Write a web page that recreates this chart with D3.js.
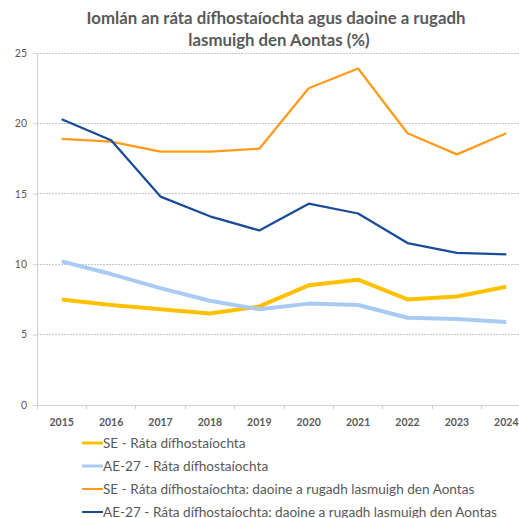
<!DOCTYPE html>
<html>
<head>
<meta charset="utf-8">
<script src="https://cdn.jsdelivr.net/npm/d3@7"></script>
<style>
  html, body { margin: 0; padding: 0; background: #fff; }
  svg { display: block; font-family: Lato, "Open Sans", sans-serif; }
</style>
</head>
<body>
<svg id="chart" width="519" height="518"></svg>
<script>
// Years on the category axis
const years = ["2015","2016","2017","2018","2019","2020","2021","2022","2023","2024"];

// Unemployment rates (%)
const seRate      = [7.5, 7.1, 6.8, 6.5, 7.0, 8.5, 8.9, 7.5, 7.7, 8.4];
const euRate      = [10.2, 9.3, 8.3, 7.4, 6.8, 7.2, 7.1, 6.2, 6.1, 5.9];
const seNonEuRate = [18.9, 18.7, 18.0, 18.0, 18.2, 22.5, 23.9, 19.3, 17.8, 19.3];
const euNonEuRate = [20.3, 18.8, 14.8, 13.4, 12.4, 14.3, 13.6, 11.5, 10.8, 10.7];

const yTicks = [0, 5, 10, 15, 20, 25];

const seriesNames = [
  "SE - Ráta dífhostaíochta",
  "AE-27 - Ráta dífhostaíochta",
  "SE - Ráta dífhostaíochta: daoine a rugadh lasmuigh den Aontas",
  "AE-27 - Ráta dífhostaíochta: daoine a rugadh lasmuigh den Aontas"
];
const seriesColors = ["#FFC000", "#A9CBF3", "#FF9A1A", "#1A4B98"];
const seriesWidths = [4, 4, 2.25, 2.25];
const seriesValues = [seRate, euRate, seNonEuRate, euNonEuRate];

const series = seriesNames.map((name, i) => ({
  name, color: seriesColors[i], width: seriesWidths[i], values: seriesValues[i]
}));

const svg = d3.select("#chart");
const W = 519;

const plotLeft = 37, plotTop = 53, plotBottom = 405;
const bandW = 49.4;
const x = d3.scaleBand().domain(years).range([plotLeft, plotLeft + bandW * years.length]);
const y = d3.scaleLinear().domain([0, 25]).range([plotBottom, plotTop]);

const textColor = "#595959";

// Title
const title = svg.append("text")
  .attr("text-anchor", "middle")
  .attr("font-weight", "bold").attr("font-size", 16.8)
  .attr("fill", textColor);
title.append("tspan").attr("x", 276).attr("y", 24).text("Iomlán an ráta dífhostaíochta agus daoine a rugadh");
title.append("tspan").attr("x", 279).attr("y", 46).text("lasmuigh den Aontas (%)");

// Horizontal gridlines
svg.append("g")
  .selectAll("line")
  .data(yTicks.filter(d => d > 0))
  .join("line")
  .attr("x1", plotLeft).attr("x2", W)
  .attr("y1", d => y(d)).attr("y2", d => y(d))
  .attr("stroke", "#c8c8c8").attr("stroke-width", 1)
  .attr("stroke-dasharray", "2,1")
  .attr("shape-rendering", "crispEdges");

// Y axis
const yAxis = svg.append("g")
  .attr("transform", `translate(${plotLeft},0)`)
  .call(d3.axisLeft(y).tickValues(yTicks).tickSize(4).tickPadding(6).tickFormat(d3.format("d")));
yAxis.select(".domain").attr("stroke", "#d0d0d0");
yAxis.selectAll(".tick line").attr("stroke", "#d0d0d0");
yAxis.selectAll(".tick text").attr("fill", textColor).attr("font-size", 10.5).attr("font-family", "Lato, sans-serif");

// X axis with tick marks at category boundaries
const xAxisG = svg.append("g").attr("transform", `translate(0,${plotBottom})`);
xAxisG.append("line")
  .attr("x1", plotLeft).attr("x2", W).attr("y1", 0).attr("y2", 0)
  .attr("stroke", "#d0d0d0").attr("shape-rendering", "crispEdges");
xAxisG.selectAll("line.tk")
  .data(years)
  .join("line").attr("class", "tk")
  .attr("x1", d => x(d)).attr("x2", d => x(d))
  .attr("y1", 0).attr("y2", 4)
  .attr("stroke", "#d0d0d0").attr("shape-rendering", "crispEdges");
xAxisG.selectAll("text")
  .data(years)
  .join("text")
  .attr("x", d => x(d) + x.bandwidth() / 2)
  .attr("y", 21)
  .attr("text-anchor", "middle")
  .attr("font-size", 10.5)
  .attr("font-weight", "bold")
  .attr("fill", textColor)
  .text(d => d);

// Lines
const line = d3.line()
  .x((d, i) => x(years[i]) + x.bandwidth() / 2)
  .y(d => y(d));

svg.append("g")
  .selectAll("path")
  .data(series)
  .join("path")
  .attr("d", s => line(s.values))
  .attr("fill", "none")
  .attr("stroke", s => s.color)
  .attr("stroke-width", s => s.width)
  .attr("stroke-linejoin", "round");

// Legend
const legend = svg.append("g");
const item = legend.selectAll("g")
  .data(series)
  .join("g")
  .attr("transform", (d, i) => `translate(82,${443 + i * 23})`);
item.append("line")
  .attr("x1", 0).attr("x2", 21).attr("y1", 0).attr("y2", 0)
  .attr("stroke", d => d.color)
  .attr("stroke-width", d => d.width === 4 ? 3 : 2);
item.append("text")
  .attr("x", 21).attr("y", 4.5)
  .attr("font-size", 13.6)
  .attr("fill", textColor)
  .text(d => d.name);
</script>
</body>
</html>
